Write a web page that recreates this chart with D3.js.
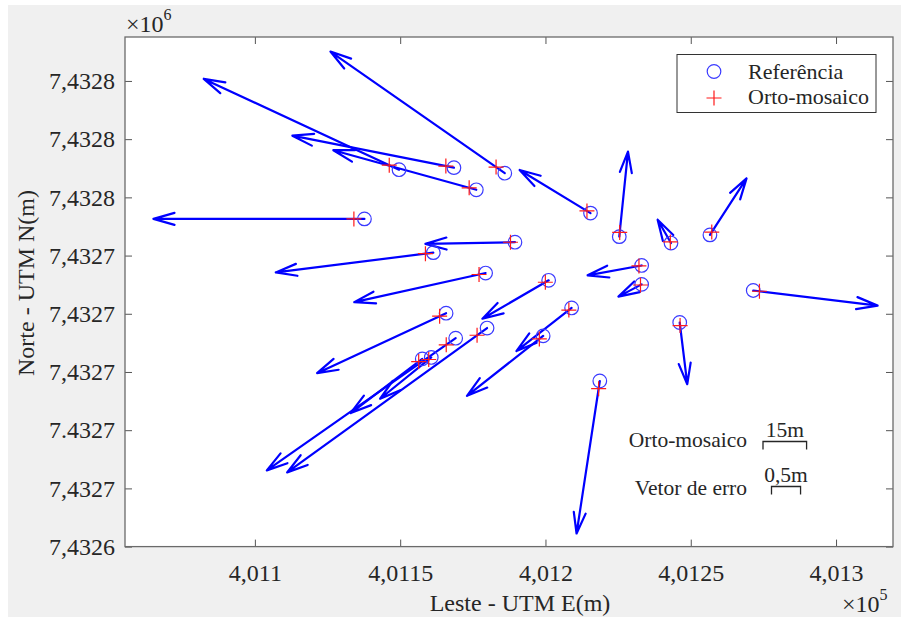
<!DOCTYPE html>
<html>
<head>
<meta charset="utf-8">
<script src="https://cdn.jsdelivr.net/npm/d3@7"></script>
<style>
  html, body { margin: 0; padding: 0; background: #ffffff; }
  svg { display: block; }
  text { font-family: "Liberation Serif", "Times New Roman", serif; fill: #262626; }
</style>
</head>
<body>
<svg id="chart" width="901" height="617"></svg>
<script>
// Ground control points: reference coordinates (UTM, metres)
const refE = [401186.0, 401149.6, 401168.5, 401176.2, 401137.7, 401189.5, 401161.4, 401179.4,
              401215.5, 401225.4, 401243.2, 401256.6, 401233.1, 401233.1, 401201.1, 401271.5,
              401209.0, 401199.2, 401246.2, 401218.7, 401165.8, 401179.9, 401169.1, 401157.6, 401160.7];
const refN = [7432768.3, 7432769.5, 7432770.2, 7432762.6, 7432752.6, 7432744.6, 7432741.0, 7432734.0,
              7432754.6, 7432746.5, 7432744.3, 7432747.1, 7432736.6, 7432730.1, 7432731.5, 7432728.0,
              7432722.0, 7432712.4, 7432717.0, 7432696.9, 7432720.2, 7432715.1, 7432711.6, 7432704.5, 7432705.0];
// Ortho-mosaic minus reference (error vector, metres)
const errE = [-3.00, -3.36, -2.78, -2.46, -3.63, -1.54, -2.71, -2.26,
              -1.22, 0.15, -0.23, 0.63, -0.93, -0.40, -1.14, 2.14,
              -0.95, -1.31, 0.13, -0.40, -2.22, -3.44, -3.25, -1.23, -0.88];
const errN = [2.09, 1.56, 0.55, 0.68, 0.00, -0.03, -0.34, -0.50,
              0.74, 1.46, 0.40, 0.97, -0.17, -0.21, -0.66, -0.26,
              -0.74, -1.03, -1.06, -2.62, -1.03, -2.48, -2.27, -0.93, -0.71];
// Error vectors are drawn exaggerated by this factor
const vectorScale = 20;

const xTicks = [401100, 401150, 401200, 401250, 401300];
const xTickLabels = ["4,011", "4,0115", "4,012", "4,0125", "4,013"];
const yTicks = [7432640, 7432660, 7432680, 7432700, 7432720, 7432740, 7432760, 7432780, 7432800];
const yTickLabels = ["7,4326", "7,4327", "7.4327", "7,4327", "7,4327", "7,4327", "7,4328", "7,4328", "7,4328"];

const xDomain = [401055.3, 401319.6];
const yDomain = [7432640, 7432815.1];

const legendLabels = ["Referência", "Orto-mosaico"];
const scaleBarLabels = ["Orto-mosaico", "Vetor de erro"];
const scaleBarValues = ["15m", "0,5m"];
const scaleBarMetres = [15, 0.5 * vectorScale];

const svg = d3.select("#chart");
const plot = { left: 125, right: 893, top: 37, bottom: 546.6 };

// figure background
svg.append("rect").attr("x", 8).attr("y", 5).attr("width", 893).attr("height", 612).attr("fill", "#f0f0f0");
svg.append("rect").attr("x", plot.left).attr("y", plot.top)
  .attr("width", plot.right - plot.left).attr("height", plot.bottom - plot.top).attr("fill", "#ffffff");

const x = d3.scaleLinear().domain(xDomain).range([plot.left, plot.right]);
const y = d3.scaleLinear().domain(yDomain).range([plot.bottom, plot.top]);

const tickLen = 7;
function styleAxis(g) {
  g.select(".domain").remove();
  g.selectAll(".tick line").attr("stroke", "#555").attr("stroke-width", 1);
  g.selectAll(".tick text").attr("font-size", 24).attr("fill", "#262626")
    .attr("font-family", "Liberation Serif, serif");
}

// bottom axis (labels) + top ticks
svg.append("g").attr("transform", `translate(0,${plot.bottom})`)
  .call(d3.axisBottom(x).tickValues(xTicks).tickFormat((d, i) => xTickLabels[i])
    .tickSizeInner(-tickLen).tickSizeOuter(0).tickPadding(17))
  .call(styleAxis);
svg.append("g").attr("transform", `translate(0,${plot.top})`)
  .call(d3.axisTop(x).tickValues(xTicks).tickFormat("").tickSizeInner(-tickLen).tickSizeOuter(0))
  .call(styleAxis);
// left axis (labels) + right ticks
svg.append("g").attr("transform", `translate(${plot.left},0)`)
  .call(d3.axisLeft(y).tickValues(yTicks).tickFormat((d, i) => yTickLabels[i])
    .tickSizeInner(-tickLen).tickSizeOuter(0).tickPadding(10))
  .call(styleAxis);
svg.append("g").attr("transform", `translate(${plot.right},0)`)
  .call(d3.axisRight(y).tickValues(yTicks).tickFormat("").tickSizeInner(-tickLen).tickSizeOuter(0))
  .call(styleAxis);

// frame
svg.append("rect").attr("x", plot.left).attr("y", plot.top)
  .attr("width", plot.right - plot.left).attr("height", plot.bottom - plot.top)
  .attr("fill", "none").attr("stroke", "#6a6a6a").attr("stroke-width", 1.3);

// exponent labels
const ex6 = svg.append("text").attr("x", 126).attr("y", 32).attr("font-size", 24);
ex6.append("tspan").text("×10");
ex6.append("tspan").attr("font-size", 16).attr("dy", -12).text("6");
const ex5 = svg.append("text").attr("x", 842).attr("y", 612).attr("font-size", 24);
ex5.append("tspan").text("×10");
ex5.append("tspan").attr("font-size", 16).attr("dy", -12).text("5");

// axis titles
svg.append("text").attr("x", 520).attr("y", 611).attr("text-anchor", "middle")
  .attr("font-size", 24).text("Leste - UTM E(m)");
svg.append("text").attr("transform", "translate(34,283) rotate(-90)").attr("text-anchor", "middle")
  .attr("font-size", 24).text("Norte - UTM N(m)");

// points table
const pts = refE.map((e, i) => ({
  e, n: refN[i],
  oe: e + errE[i], on: refN[i] + errN[i],
  te: e + vectorScale * errE[i], tn: refN[i] + vectorScale * errN[i]
}));

// error vectors (quiver)
const headLen = 21, headHalf = 6;
const arrows = svg.append("g").attr("stroke", "#0000ff").attr("stroke-width", 2.2)
  .attr("fill", "none").attr("stroke-linecap", "round").attr("stroke-linejoin", "round");
pts.forEach(p => {
  const x0 = x(p.e), y0 = y(p.n), x1 = x(p.te), y1 = y(p.tn);
  const dx = x1 - x0, dy = y1 - y0, L = Math.hypot(dx, dy);
  const ux = dx / L, uy = dy / L;
  const bx = x1 - ux * headLen, by = y1 - uy * headLen;
  arrows.append("path").attr("d",
    `M${x0},${y0}L${x1},${y1}` +
    `M${bx - uy * headHalf},${by + ux * headHalf}L${x1},${y1}L${bx + uy * headHalf},${by - ux * headHalf}`);
});

// reference markers
svg.append("g").selectAll("circle").data(pts).join("circle")
  .attr("cx", d => x(d.e)).attr("cy", d => y(d.n)).attr("r", 6.8)
  .attr("fill", "none").attr("stroke", "#3a3aff").attr("stroke-width", 1.2);

// ortho-mosaic markers
const plusSize = 7.5;
svg.append("g").selectAll("path").data(pts).join("path")
  .attr("d", d => {
    const cx = x(d.oe), cy = y(d.on);
    return `M${cx - plusSize},${cy}H${cx + plusSize}M${cx},${cy - plusSize}V${cy + plusSize}`;
  })
  .attr("stroke", "#ff1a1a").attr("stroke-width", 1.2).attr("fill", "none");

// legend
const lg = svg.append("g");
lg.append("rect").attr("x", 677).attr("y", 54.5).attr("width", 199).attr("height", 58)
  .attr("fill", "#ffffff").attr("stroke", "#333").attr("stroke-width", 1);
lg.append("circle").attr("cx", 714).attr("cy", 71.5).attr("r", 6.8)
  .attr("fill", "none").attr("stroke", "#3a3aff").attr("stroke-width", 1.2);
lg.append("path").attr("d", `M${714 - plusSize},98H${714 + plusSize}M714,${98 - plusSize}V${98 + plusSize}`)
  .attr("stroke", "#ff1a1a").attr("stroke-width", 1.2);
lg.selectAll("text").data(legendLabels).join("text")
  .attr("x", 748).attr("y", (d, i) => 78.5 + i * 25).attr("font-size", 22).text(d => d);

// scale bars
const barX = [763, 771.5];
const barY = [441.5, 486.5];
scaleBarLabels.forEach((lab, i) => {
  const w = x(xDomain[0] + scaleBarMetres[i]) - x(xDomain[0]);
  svg.append("text").attr("x", 747).attr("y", barY[i] + 5 + (i ? 3 : 0)).attr("text-anchor", "end")
    .attr("font-size", 21.5).text(lab);
  svg.append("text").attr("x", barX[i] + w / 2).attr("y", barY[i] - 5).attr("text-anchor", "middle")
    .attr("font-size", 21.5).text(scaleBarValues[i]);
  svg.append("path").attr("d", `M${barX[i]},${barY[i] + 8}V${barY[i]}H${barX[i] + w}V${barY[i] + 8}`)
    .attr("fill", "none").attr("stroke", "#262626").attr("stroke-width", 1.3);
});
</script>
</body>
</html>
